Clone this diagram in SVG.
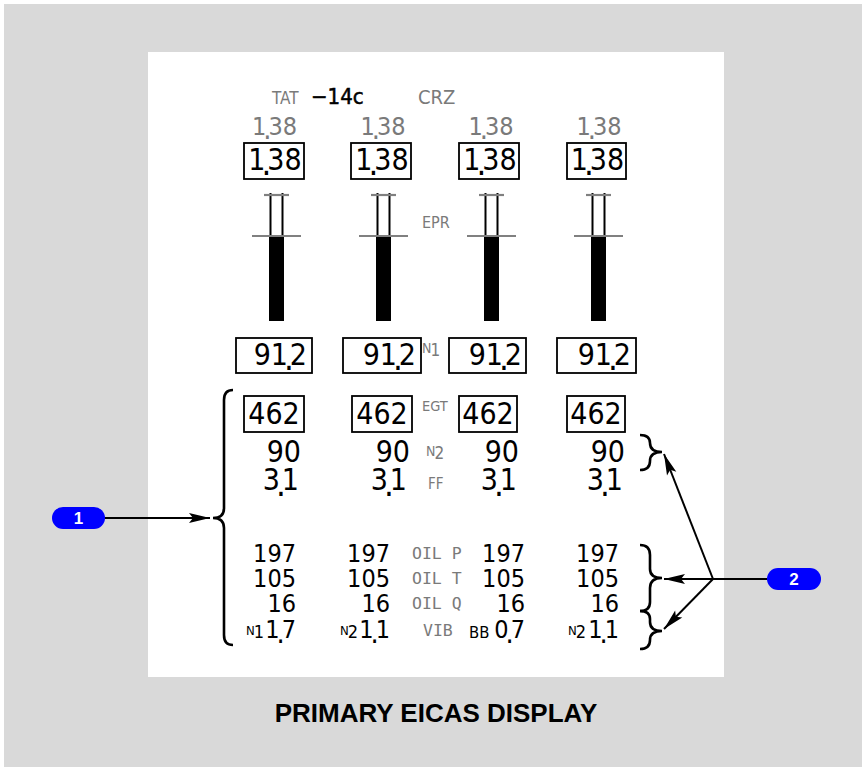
<svg xmlns="http://www.w3.org/2000/svg" width="866" height="771" viewBox="0 0 866 771">
<style>
.d{font-family:"DejaVu Sans Condensed","DejaVu Sans",sans-serif;fill:#000}
.b30{font-size:30px}
.b25{font-size:25px}
.g{fill:#7a7a7a}
.s{font-size:16px}
.m{font-family:"DejaVu Sans Mono",monospace;font-size:16.5px;fill:#7a7a7a}
.p{font-size:1.15em}
.box{fill:none;stroke:#000;stroke-width:1.8}
.gl{stroke:#808080;stroke-width:2.2}
.tk{stroke:#000;stroke-width:2}
.br{fill:none;stroke:#000;stroke-width:2.6}
.cn{fill:none;stroke:#000;stroke-width:2}
.pill{fill:#0000ff}
.pt{font-family:"Liberation Sans",Arial,sans-serif;font-weight:bold;font-size:17px;fill:#fff}
.mid{text-anchor:middle}
.end{text-anchor:end}
</style>
<defs>
<marker id="ah" markerUnits="userSpaceOnUse" markerWidth="24" markerHeight="12" viewBox="-22 -6 24 12" refX="0" refY="0" orient="auto">
<path d="M0,0 L-21,-5 L-17,0 L-21,5 Z" fill="#000"/>
</marker>
</defs>
<rect x="4" y="4" width="858" height="763" fill="#d9d9d9"/>
<rect x="148" y="52" width="576" height="625" fill="#fff"/>

<g id="header">
<text class="d g" x="272" y="104" font-size="17">TAT</text>
<text class="d" x="311" y="104" font-size="22" stroke="#000" stroke-width="0.5">−14c</text>
<text class="d g" x="418" y="104" font-size="20">CRZ</text>
</g>

<g id="epr-target">
<text class="d g b25 mid" x="274.5" y="135">1<tspan class="p" dx="-3" dy="4">.</tspan><tspan dx="-3" dy="-4">38</tspan></text>
<text class="d g b25 mid" x="383" y="135">1<tspan class="p" dx="-3" dy="4">.</tspan><tspan dx="-3" dy="-4">38</tspan></text>
<text class="d g b25 mid" x="491" y="135">1<tspan class="p" dx="-3" dy="4">.</tspan><tspan dx="-3" dy="-4">38</tspan></text>
<text class="d g b25 mid" x="599" y="135">1<tspan class="p" dx="-3" dy="4">.</tspan><tspan dx="-3" dy="-4">38</tspan></text>
</g>

<g id="epr-readout">
<rect class="box" x="244" y="143" width="60" height="36"/>
<rect class="box" x="351" y="143" width="60" height="36"/>
<rect class="box" x="459" y="143" width="60" height="36"/>
<rect class="box" x="567" y="143" width="59" height="36"/>
<text class="d b30 mid" x="275" y="170">1<tspan class="p" dx="-4" dy="5">.</tspan><tspan dx="-4" dy="-5">38</tspan></text>
<text class="d b30 mid" x="382" y="170">1<tspan class="p" dx="-4" dy="5">.</tspan><tspan dx="-4" dy="-5">38</tspan></text>
<text class="d b30 mid" x="490" y="170">1<tspan class="p" dx="-4" dy="5">.</tspan><tspan dx="-4" dy="-5">38</tspan></text>
<text class="d b30 mid" x="597.5" y="170">1<tspan class="p" dx="-4" dy="5">.</tspan><tspan dx="-4" dy="-5">38</tspan></text>
</g>

<g id="epr-gauges">
<g transform="translate(276.5,0)">
<rect x="-7.5" y="236" width="15" height="85" fill="#000"/>
<line class="tk" x1="-6" y1="193" x2="-6" y2="236"/><line class="tk" x1="6" y1="193" x2="6" y2="236"/>
<line class="gl" x1="-12.5" y1="195" x2="12.5" y2="195"/><line class="gl" x1="-24.5" y1="236" x2="24.5" y2="236"/>
</g>
<g transform="translate(383.5,0)">
<rect x="-7.5" y="236" width="15" height="85" fill="#000"/>
<line class="tk" x1="-6" y1="193" x2="-6" y2="236"/><line class="tk" x1="6" y1="193" x2="6" y2="236"/>
<line class="gl" x1="-12.5" y1="195" x2="12.5" y2="195"/><line class="gl" x1="-24.5" y1="236" x2="24.5" y2="236"/>
</g>
<g transform="translate(491.5,0)">
<rect x="-7.5" y="236" width="15" height="85" fill="#000"/>
<line class="tk" x1="-6" y1="193" x2="-6" y2="236"/><line class="tk" x1="6" y1="193" x2="6" y2="236"/>
<line class="gl" x1="-12.5" y1="195" x2="12.5" y2="195"/><line class="gl" x1="-24.5" y1="236" x2="24.5" y2="236"/>
</g>
<g transform="translate(598.5,0)">
<rect x="-7.5" y="236" width="15" height="85" fill="#000"/>
<line class="tk" x1="-6" y1="193" x2="-6" y2="236"/><line class="tk" x1="6" y1="193" x2="6" y2="236"/>
<line class="gl" x1="-12.5" y1="195" x2="12.5" y2="195"/><line class="gl" x1="-24.5" y1="236" x2="24.5" y2="236"/>
</g>
<text class="d g s" x="422" y="228">EPR</text>
</g>

<g id="n1">
<rect class="box" x="236" y="338" width="76" height="35"/>
<rect class="box" x="343" y="338" width="78" height="35"/>
<rect class="box" x="449" y="338" width="77" height="35"/>
<rect class="box" x="557" y="338" width="79" height="35"/>
<text class="d b30 end" x="307" y="365">91<tspan class="p" dx="-4" dy="5">.</tspan><tspan dx="-4" dy="-5">2</tspan></text>
<text class="d b30 end" x="416" y="365">91<tspan class="p" dx="-4" dy="5">.</tspan><tspan dx="-4" dy="-5">2</tspan></text>
<text class="d b30 end" x="522" y="365">91<tspan class="p" dx="-4" dy="5">.</tspan><tspan dx="-4" dy="-5">2</tspan></text>
<text class="d b30 end" x="631" y="365">91<tspan class="p" dx="-4" dy="5">.</tspan><tspan dx="-4" dy="-5">2</tspan></text>
<text class="d g" x="422" y="353" font-size="14">N<tspan dx="-1" dy="3" font-size="17">1</tspan></text>
</g>

<g id="egt">
<rect class="box" x="244" y="396" width="60" height="36"/>
<rect class="box" x="352" y="396" width="60" height="36"/>
<rect class="box" x="459" y="396" width="58" height="36"/>
<rect class="box" x="567" y="396" width="58" height="36"/>
<text class="d b30 mid" x="274" y="424">462</text>
<text class="d b30 mid" x="382" y="424">462</text>
<text class="d b30 mid" x="488" y="424">462</text>
<text class="d b30 mid" x="596" y="424">462</text>
<text class="d g" x="422" y="411" font-size="14.5">EGT</text>
</g>

<g id="n2">
<text class="d b30 end" x="301" y="462">90</text>
<text class="d b30 end" x="410" y="462">90</text>
<text class="d b30 end" x="519" y="462">90</text>
<text class="d b30 end" x="625" y="462">90</text>
<text class="d g" x="426" y="456" font-size="14">N<tspan dx="-1" dy="3" font-size="17">2</tspan></text>
</g>

<g id="ff">
<text class="d b30 end" x="299" y="490">3<tspan class="p" dx="-4" dy="6">.</tspan><tspan dx="-4" dy="-6">1</tspan></text>
<text class="d b30 end" x="407" y="490">3<tspan class="p" dx="-4" dy="6">.</tspan><tspan dx="-4" dy="-6">1</tspan></text>
<text class="d b30 end" x="517" y="490">3<tspan class="p" dx="-4" dy="6">.</tspan><tspan dx="-4" dy="-6">1</tspan></text>
<text class="d b30 end" x="623" y="490">3<tspan class="p" dx="-4" dy="6">.</tspan><tspan dx="-4" dy="-6">1</tspan></text>
<text class="d g" x="428" y="489" font-size="15">FF</text>
</g>

<g id="oil">
<text class="d b25 end" x="296" y="562">197</text>
<text class="d b25 end" x="390" y="562">197</text>
<text class="d b25 end" x="525" y="562">197</text>
<text class="d b25 end" x="619" y="562">197</text>
<text class="m" x="412" y="559">OIL P</text>
<text class="d b25 end" x="296" y="587">105</text>
<text class="d b25 end" x="390" y="587">105</text>
<text class="d b25 end" x="525" y="587">105</text>
<text class="d b25 end" x="619" y="587">105</text>
<text class="m" x="412" y="584">OIL T</text>
<text class="d b25 end" x="296" y="612">16</text>
<text class="d b25 end" x="390" y="612">16</text>
<text class="d b25 end" x="525" y="612">16</text>
<text class="d b25 end" x="619" y="612">16</text>
<text class="m" x="412" y="609">OIL Q</text>
</g>

<g id="vib">
<text class="d" x="246" y="635" font-size="13">N<tspan dx="-1" dy="3" font-size="18">1</tspan></text>
<text class="d b25 end" x="296" y="638">1<tspan class="p" dx="-3" dy="5">.</tspan><tspan dx="-3" dy="-5">7</tspan></text>
<text class="d" x="340" y="635" font-size="13">N<tspan dx="-1" dy="3" font-size="18">2</tspan></text>
<text class="d b25 end" x="390" y="638">1<tspan class="p" dx="-3" dy="5">.</tspan><tspan dx="-3" dy="-5">1</tspan></text>
<text class="m" x="423" y="636">VIB</text>
<text class="d" x="469" y="638" font-size="16.5">BB</text>
<text class="d b25 end" x="525" y="638">0<tspan class="p" dx="-3" dy="5">.</tspan><tspan dx="-3" dy="-5">7</tspan></text>
<text class="d" x="568" y="635" font-size="13">N<tspan dx="-1" dy="3" font-size="18">2</tspan></text>
<text class="d b25 end" x="619" y="638">1<tspan class="p" dx="-3" dy="5">.</tspan><tspan dx="-3" dy="-5">1</tspan></text>
</g>

<g id="braces">
<path class="br" d="M233,390 Q224,390 224,400 L224,508 Q224,518 213,518 Q224,518 224,528 L224,635 Q224,645 233,645"/>
<path class="br" d="M640,435 Q650,435 650,443 Q650,452 662,452 Q650,452 650,461 Q650,470 640,470"/>
<path class="br" d="M640,545 Q650,545 650,555 L650,569 Q650,578 662,578 Q650,578 650,588 L650,602 Q650,611 640,611"/>
<path class="br" d="M640,611 Q650,611 650,619 L650,622 Q650,631 662,631 Q650,631 650,640 Q650,649 640,649"/>
</g>

<g id="connectors">
<line class="cn" x1="104" y1="518" x2="210" y2="518" marker-end="url(#ah)"/>
<line class="cn" x1="767" y1="579" x2="713" y2="579"/>
<line class="cn" x1="713" y1="579" x2="664" y2="454" marker-end="url(#ah)"/>
<line class="cn" x1="713" y1="579" x2="664" y2="579" marker-end="url(#ah)"/>
<line class="cn" x1="713" y1="579" x2="664" y2="629" marker-end="url(#ah)"/>
</g>

<g id="badge1">
<rect class="pill" x="52" y="507" width="53" height="22" rx="11"/>
<text class="pt mid" x="78.5" y="524">1</text>
</g>
<g id="badge2">
<rect class="pill" x="767" y="568" width="54" height="22" rx="11"/>
<text class="pt mid" x="794" y="585">2</text>
</g>

<g id="title">
<text x="436" y="722" text-anchor="middle" font-family="'Liberation Sans',Arial,sans-serif" font-weight="bold" font-size="26">PRIMARY EICAS DISPLAY</text>
</g>
</svg>
